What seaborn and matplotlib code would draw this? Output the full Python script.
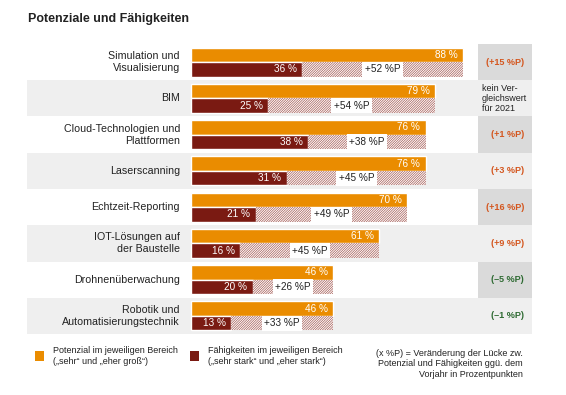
import matplotlib
matplotlib.use('Agg')
import matplotlib.pyplot as plt
from matplotlib.patches import Rectangle
import seaborn as sns
import pandas as pd

# Daten
bereiche = ['Simulation und\nVisualisierung', 'BIM', 'Cloud-Technologien und\nPlattformen',
            'Laserscanning', 'Echtzeit-Reporting', 'IOT-Lösungen auf\nder Baustelle',
            'Drohnenüberwachung', 'Robotik und\nAutomatisierungstechnik']
potenzial = [88, 79, 76, 76, 70, 61, 46, 46]
faehigkeit = [36, 25, 38, 31, 21, 16, 20, 13]
veraenderung = [15, None, 1, 3, 16, 9, -5, -1]

ORANGE = '#ea8c00'
DARKRED = '#7a1a12'
GRAU = '#efefef'
GRAU_DUNKEL = '#dadada'
TXT = '#222222'

sns.set_theme(style='white')
plt.rcParams['font.family'] = ['Liberation Sans', 'DejaVu Sans']
plt.rcParams['hatch.linewidth'] = 0.5

df = pd.DataFrame({
    'Bereich': bereiche * 2,
    'Wert': potenzial + faehigkeit,
    'Reihe': ['Potenzial'] * len(bereiche) + ['Fähigkeit'] * len(bereiche),
})

fig = plt.figure(figsize=(5.66, 3.95), dpi=100)
ax = fig.add_axes([27 / 566, 1 - 334 / 395, 505 / 566, 290 / 395])

# Skala: 0 % bei 191 px, 3.09 px pro %
PPP = 3.09
x0 = -(191 - 27) / PPP
x1 = (532 - 191) / PPP
frac_col = (478 - 27) / 505

# Zeilenhintergrund
for i in range(len(bereiche)):
    if i % 2 == 1:
        ax.axhspan(i - 0.5, i + 0.5, xmin=0, xmax=frac_col, color=GRAU, lw=0, zorder=0)
        ax.axhspan(i - 0.5, i + 0.5, xmin=frac_col, xmax=1, color=GRAU, lw=0, zorder=0)
    else:
        ax.axhspan(i - 0.5, i + 0.5, xmin=frac_col, xmax=1, color=GRAU_DUNKEL, lw=0, zorder=0)

sns.barplot(data=df, x='Wert', y='Bereich', hue='Reihe', orient='h',
            palette=[ORANGE, DARKRED], saturation=1, width=0.8, errorbar=None,
            legend=False, ax=ax, zorder=2)

# Lücke schraffiert
ypos = range(len(bereiche))
luecke = [p - f for p, f in zip(potenzial, faehigkeit)]
ax.barh([y + 0.2 for y in ypos], luecke, left=faehigkeit, height=0.4,
        color='white', edgecolor='#a45a54', hatch='/' * 14, linewidth=0, zorder=2)

for i, (p, f, d, v) in enumerate(zip(potenzial, faehigkeit, luecke, veraenderung)):
    ax.text(p - 1.8, i - 0.2, f'{p} %', color='white', fontsize=7.2,
            ha='right', va='center', zorder=3)
    ax.text(f - 1.8, i + 0.2, f'{f} %', color='white', fontsize=7.2,
            ha='right', va='center', zorder=3)
    ax.text((p + f) / 2, i + 0.2, f'+{d} %P', color=TXT, fontsize=7.2,
            ha='center', va='center', zorder=4,
            bbox=dict(boxstyle='square,pad=0.25', fc='white', ec='none'))
    ax.text(-3.6, i, bereiche[i], color=TXT, fontsize=7.7, ha='right', va='center',
            linespacing=1.25)
    if v is None:
        ax.text((482 - 191) / PPP, i, 'kein Ver-\ngleichswert\nfür 2021', color=TXT,
                fontsize=6.5, ha='left', va='center', linespacing=1.15)
    else:
        farbe = '#d4561e' if v > 0 else '#2f6b33'
        s = f'(+{v} %P)' if v > 0 else f'(–{abs(v)} %P)'
        ax.text((524 - 191) / PPP, i, s, color=farbe, fontsize=6.5, fontweight='bold',
                ha='right', va='center')

ax.set_xlim(x0, x1)
ax.set_ylim(len(bereiche) - 0.5, -0.5)
ax.axis('off')

# Titel
fig.text(28 / 566, 1 - 19 / 395, 'Potenziale und Fähigkeiten', fontsize=9,
         fontweight='bold', color=TXT, ha='left', va='center')

# Legende
fig.add_artist(Rectangle((35 / 566, 1 - 361 / 395), 9 / 566, 10 / 395,
                         transform=fig.transFigure, color=ORANGE, lw=0))
fig.text(53 / 566, 1 - 356 / 395, 'Potenzial im jeweiligen Bereich\n(„sehr“ und „eher groß“)',
         fontsize=6.5, color=TXT, ha='left', va='center', linespacing=1.25)
fig.add_artist(Rectangle((190 / 566, 1 - 361 / 395), 9 / 566, 10 / 395,
                         transform=fig.transFigure, color=DARKRED, lw=0))
fig.text(208 / 566, 1 - 356 / 395, 'Fähigkeiten im jeweiligen Bereich\n(„sehr stark“ und „eher stark“)',
         fontsize=6.5, color=TXT, ha='left', va='center', linespacing=1.25)
fig.text(523 / 566, 1 - 364 / 395,
         '(x %P) = Veränderung der Lücke zw.\nPotenzial und Fähigkeiten ggü. dem\nVorjahr in Prozentpunkten',
         fontsize=6.5, color=TXT, ha='right', va='center', linespacing=1.25)

fig.savefig('out.png', dpi=100, facecolor='white')
